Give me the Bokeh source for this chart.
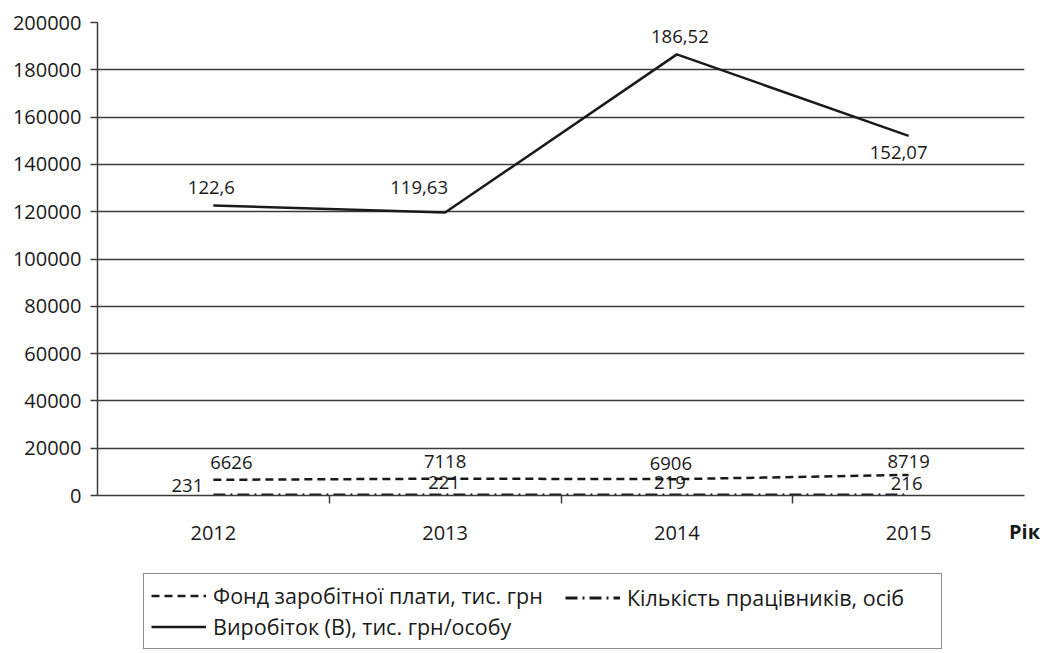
from bokeh.plotting import figure
from bokeh.layouts import column
from bokeh.core.properties import value
from bokeh.models import (ColumnDataSource, LabelSet, Legend, LegendItem,
                          FixedTicker, NumeralTickFormatter, Range1d)
from bokeh.embed import file_html
from bokeh.resources import INLINE

# ---- data ----
years = ["2012", "2013", "2014", "2015"]
fund = [6626, 7118, 6906, 8719]                 # Фонд заробітної плати, тис. грн
workers = [231, 221, 219, 216]                  # Кількість працівників, осіб
output_plot = [122600, 119630, 186520, 152070]  # Виробіток (as plotted)
output_labels = ["122,6", "119,63", "186,52", "152,07"]
y_ticks = list(range(0, 200001, 20000))
x_title = "Рік"

series_names = ["Фонд заробітної плати, тис. грн",
                "Кількість працівників, осіб",
                "Виробіток (В), тис. грн/особу"]

# ---- label placement (screen px) ----
fund_off = dict(x=[18, 0, -6, 0], y=[17, 17, 16, 13])
work_off = dict(x=[-26, -1, -7, -2], y=[9, 12, 12, 11])
out_off = dict(x=[-2, -26, 3, -10], y=[18, 25, 18, -17])

FONT = "Open Sans"
FS_TICK = "20px"
FS_LAB = "18.5px"
FS_LEG = "21.5px"
INK = "#1a1a1a"
GRID = "#3c3c3c"
DASH_FUND = "8 5"
DASH_WORK = "12 5 2 5"

xs = [i + 0.5 for i in range(len(years))]

MAIN_H = 565
p = figure(width=1040, height=MAIN_H, output_backend="svg", toolbar_location=None,
           x_range=Range1d(0, len(years)), y_range=Range1d(0, 200000))
p.min_border_left = 97
p.min_border_right = 16
p.min_border_top = 22
p.min_border_bottom = MAIN_H - 495
p.outline_line_color = None
p.background_fill_color = "white"
p.border_fill_color = "white"

# grid
p.xgrid.grid_line_color = None
p.ygrid.grid_line_color = GRID
p.ygrid.grid_line_width = 1.5
p.ygrid.ticker = FixedTicker(ticks=y_ticks)

# y axis
p.yaxis.ticker = FixedTicker(ticks=y_ticks)
p.yaxis.formatter = NumeralTickFormatter(format="0")
p.yaxis.major_tick_out = 7
p.yaxis.major_tick_in = 0
p.yaxis.minor_tick_out = 0
p.yaxis.minor_tick_in = 0
p.yaxis.major_label_standoff = 9
p.yaxis.axis_line_color = GRID
p.yaxis.axis_line_width = 1.5
p.yaxis.major_tick_line_color = GRID
p.yaxis.major_tick_line_width = 1.5
p.yaxis.major_label_text_font = FONT
p.yaxis.major_label_text_font_size = FS_TICK
p.yaxis.major_label_text_color = INK

# x axis: labels at band centres, ticks at band boundaries
p.xaxis.ticker = FixedTicker(ticks=xs, minor_ticks=list(range(1, len(years))))
p.xaxis.major_label_overrides = {x: y for x, y in zip(xs, years)}
p.xaxis.major_tick_out = 0
p.xaxis.major_tick_in = 0
p.xaxis.minor_tick_out = 8
p.xaxis.minor_tick_in = 0
p.xaxis.minor_tick_line_color = GRID
p.xaxis.minor_tick_line_width = 1.5
p.xaxis.major_label_standoff = 22
p.xaxis.axis_line_color = GRID
p.xaxis.axis_line_width = 1.5
p.xaxis.major_label_text_font = FONT
p.xaxis.major_label_text_font_size = FS_TICK
p.xaxis.major_label_text_color = INK
p.xaxis.axis_label = x_title
p.xaxis.axis_label_text_font = FONT
p.xaxis.axis_label_text_font_size = FS_TICK
p.xaxis.axis_label_text_font_style = "bold"
p.xaxis.axis_label_text_color = INK
p.xaxis.axis_label_standoff = -25
try:
    p.xaxis.axis_label_align = "end"
except Exception:
    try:
        p.xaxis.axis_label_align = "right"
    except Exception:
        pass

# lines
p.line(xs, fund, line_color=INK, line_width=2.5, line_dash=DASH_FUND)
p.line(xs, workers, line_color=INK, line_width=3, line_dash=DASH_WORK)
p.line(xs, output_plot, line_color=INK, line_width=2.5)

# data labels
def labels(vals, texts, off):
    src = ColumnDataSource(dict(x=xs, y=vals, t=texts, xo=off["x"], yo=off["y"]))
    p.add_layout(LabelSet(x="x", y="y", text="t", source=src, x_offset="xo", y_offset="yo",
                          text_align="center", text_baseline="middle",
                          text_font=value(FONT), text_font_size=value(FS_LAB),
                          text_color=INK))

labels(fund, [str(v) for v in fund], fund_off)
labels(workers, [str(v) for v in workers], work_off)
labels(output_plot, output_labels, out_off)

# ---- legend in its own strip (frame aligned with the chart frame) ----
LEG_H = 85
q = figure(width=1040, height=LEG_H, output_backend="svg", toolbar_location=None,
           x_range=Range1d(0, 1), y_range=Range1d(0, 1),
           x_axis_location=None, y_axis_location=None)
q.grid.visible = False
q.outline_line_color = None
q.min_border = 0
q.border_fill_color = "white"
l1 = q.line([-5, -4], [-5, -4], line_color=INK, line_width=2.5, line_dash=DASH_FUND)
l2 = q.line([-5, -4], [-5, -4], line_color=INK, line_width=3, line_dash=DASH_WORK)
l3 = q.line([-5, -4], [-5, -4], line_color=INK, line_width=2.5)


def style(lg):
    lg.label_text_font = FONT
    lg.label_text_font_size = FS_LEG
    lg.label_text_color = INK
    lg.glyph_width = 55
    lg.glyph_height = 29
    lg.label_height = 29
    lg.label_standoff = 7
    lg.spacing = 2
    lg.margin = 0


# framed legend: first column (two rows)
leg_a = Legend(items=[LegendItem(label=series_names[0], renderers=[l1]),
                      LegendItem(label=series_names[2], renderers=[l3])],
               orientation="vertical", location=(46, 1))
style(leg_a)
leg_a.label_width = 721
leg_a.padding = 7
leg_a.border_line_color = INK
leg_a.border_line_width = 1.5
leg_a.background_fill_color = "white"
leg_a.background_fill_alpha = 1

# second column entry, drawn inside the same frame
leg_b = Legend(items=[LegendItem(label=series_names[1], renderers=[l2])],
               orientation="vertical", location=(468, 38))
style(leg_b)
leg_b.padding = 0
leg_b.border_line_color = None
leg_b.background_fill_alpha = 0

q.add_layout(leg_a, "center")
q.add_layout(leg_b, "center")

open("out.html", "w").write(file_html(column(p, q), INLINE))
